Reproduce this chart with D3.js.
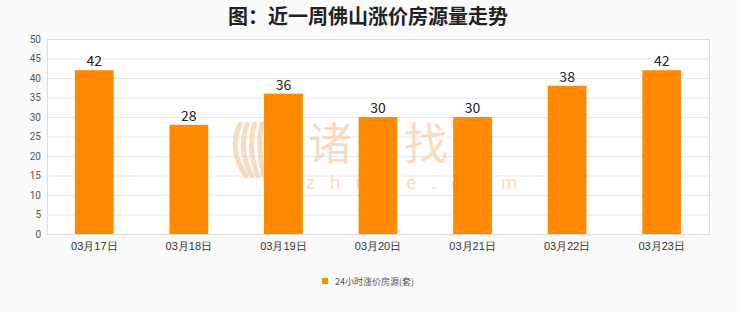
<!DOCTYPE html>
<html>
<head>
<meta charset="utf-8">
<script src="https://cdn.jsdelivr.net/npm/d3@7"></script>
<style>
  body { margin: 0; background: #fafafa; }
  svg { display: block; font-family: "Noto Sans CJK SC", "Noto Sans", sans-serif; }
</style>
</head>
<body>
<svg id="chart" width="740" height="312"></svg>
<script>
// data
var dates = ["03月17日", "03月18日", "03月19日", "03月20日", "03月21日", "03月22日", "03月23日"];
var counts = [42, 28, 36, 30, 30, 38, 42];
var yTicks = [0, 5, 10, 15, 20, 25, 30, 35, 40, 45, 50];
var seriesName = "24小时涨价房源(套)";
var title = "图：近一周佛山涨价房源量走势";

var svg = d3.select("#chart");
var m = { left: 47, right: 31, top: 39, bottom: 78 };
var W = 740, H = 312;

var x = d3.scaleBand().domain(dates).range([m.left, W - m.right]).paddingInner(0.59).paddingOuter(0.295);
var y = d3.scaleLinear().domain([0, 50]).range([H - m.bottom, m.top]);

// title
svg.append("text")
  .attr("x", 368).attr("y", 24)
  .attr("text-anchor", "middle")
  .attr("font-size", 20).attr("font-weight", "bold")
  .attr("fill", "#222")
  .text(title);

// plot background
svg.append("rect")
  .attr("x", m.left).attr("y", m.top)
  .attr("width", W - m.left - m.right).attr("height", H - m.top - m.bottom)
  .attr("fill", "#fff");

// grid lines
svg.append("g").selectAll("line")
  .data(yTicks)
  .enter().append("line")
  .attr("x1", m.left).attr("x2", W - m.right)
  .attr("y1", function(d) { return y(d) + 0.5; })
  .attr("y2", function(d) { return y(d) + 0.5; })
  .attr("stroke", "#e8e8e8");

// watermark behind the bars
var wm = svg.append("g").attr("fill", "#f6d3b4").attr("opacity", 0.8);
wm.append("text").attr("x", 308).attr("y", 160)
  .attr("font-size", 44).attr("letter-spacing", 4).text("诸葛找房");
wm.append("text").attr("x", 306).attr("y", 189)
  .attr("font-size", 18).attr("letter-spacing", 15).text("zhuge.com");
// rough leaf logo
[-10, -4, 2, 8].forEach(function(dx) {
  wm.append("path")
    .attr("d", "M" + (256 + dx) + ",176 Q" + (244 + dx * 1.6) + ",150 " + (252 + dx * 1.2) + ",124")
    .attr("fill", "none").attr("stroke", "#f6d3b4").attr("stroke-width", 5).attr("stroke-linecap", "round");
});

// plot border
svg.append("rect")
  .attr("x", m.left + 0.5).attr("y", m.top + 0.5)
  .attr("width", W - m.left - m.right).attr("height", H - m.top - m.bottom)
  .attr("fill", "none").attr("stroke", "#dcdcdc");

// bars
svg.append("g").selectAll("rect")
  .data(counts)
  .enter().append("rect")
  .attr("x", function(d, i) { return x(dates[i]); })
  .attr("y", function(d) { return y(d); })
  .attr("width", x.bandwidth())
  .attr("height", function(d) { return y(0) - y(d); })
  .attr("fill", "#ff8a00");

// value labels
svg.append("g").selectAll("text")
  .data(counts)
  .enter().append("text")
  .attr("x", function(d, i) { return x(dates[i]) + x.bandwidth() / 2; })
  .attr("y", function(d) { return y(d) - 4; })
  .attr("text-anchor", "middle")
  .attr("font-size", 14)
  .attr("fill", "#222")
  .text(function(d) { return d; });

// y axis
var yAxis = svg.append("g")
  .attr("transform", "translate(" + (m.left - 6) + ",0)")
  .call(d3.axisLeft(y).tickValues(yTicks).tickSize(0).tickPadding(0));
yAxis.select(".domain").remove();
yAxis.selectAll("text").attr("font-size", 10).attr("fill", "#555").attr("font-family", "Roboto, sans-serif");

// x axis
var xAxis = svg.append("g")
  .attr("transform", "translate(0," + (H - m.bottom) + ")")
  .call(d3.axisBottom(x).tickSize(0).tickPadding(8));
xAxis.select(".domain").remove();
xAxis.selectAll("text").attr("font-size", 11).attr("fill", "#333");

// legend
var lg = svg.append("g").attr("transform", "translate(322,278)");
lg.append("rect").attr("width", 6).attr("height", 6).attr("fill", "#ff8a00");
lg.append("text").attr("x", 13).attr("y", 6.5)
  .attr("font-size", 9).attr("fill", "#555").text(seriesName);
</script>
</body>
</html>
